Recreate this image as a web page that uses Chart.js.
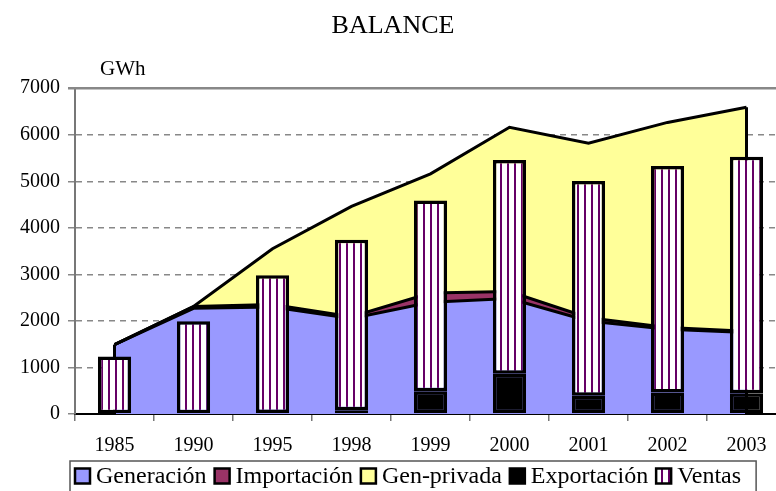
<!DOCTYPE html>
<html><head><meta charset="utf-8">
<script src="https://cdn.jsdelivr.net/npm/chart.js@4.4.0/dist/chart.umd.min.js"></script>
<style>
html,body{margin:0;padding:0;overflow:hidden;background:#fff;width:776px;height:491px}
#wrap{position:absolute;left:0;top:0;width:822px;height:500px}
</style></head><body>
<div id="wrap"><canvas id="c"></canvas></div>
<script>
const categories = ['1985','1990','1995','1998','1999','2000','2001','2002','2003'];
const generacion  = [1490, 2270, 2300, 2050, 2400, 2480, 2000, 1820, 1750];
const importacion = [0, 40, 50, 40, 200, 150, 70, 40, 30];
const genPrivada  = [0, 0, 1200, 2370, 2560, 3530, 3750, 4405, 4810];
const exportacion = [0, 0, 20, 80, 490, 865, 390, 460, 445];
const ventas      = [1235, 1995, 2960, 3665, 4095, 4590, 4615, 4870, 5080];
const yTickValues = [0, 1000, 2000, 3000, 4000, 5000, 6000, 7000];
const seriesNames = ['Generación', 'Importación', 'Gen-privada', 'Exportación', 'Ventas'];
const unitLabel = 'GWh';
const titleText = 'BALANCE';

const SERIF = "'Liberation Serif', 'Times New Roman', serif";

function stripePattern() {
  const c = document.createElement('canvas');
  c.width = 7; c.height = 8;
  const g = c.getContext('2d');
  g.fillStyle = '#ffffff'; g.fillRect(0, 0, 7, 8);
  g.fillStyle = '#660066'; g.fillRect(3, 0, 2, 8);
  return g.createPattern(c, 'repeat');
}
const ventasFill = stripePattern();

const decor = {
  id: 'decor',
  beforeDatasetsDraw(chart) {
    const {ctx, chartArea, scales: {y}} = chart;
    const top = y.getPixelForValue(yTickValues[yTickValues.length - 1]);
    ctx.save();
    ctx.strokeStyle = '#888';
    ctx.lineWidth = 2.5;
    ctx.beginPath();
    ctx.moveTo(chartArea.left - 7, top);
    ctx.lineTo(chartArea.right, top);
    ctx.stroke();
    ctx.restore();
  },
  afterDatasetDraw(chart, args) {
    if (args.index !== 0) return;
    const {ctx, scales: {y}} = chart;
    const meta = chart.getDatasetMeta(2);
    const base = y.getPixelForValue(0);
    const pts = [meta.data[0], meta.data[meta.data.length - 1]];
    ctx.save();
    ctx.strokeStyle = '#000';
    ctx.lineWidth = 3;
    pts.forEach(p => {
      ctx.beginPath();
      ctx.moveTo(p.x, p.y);
      ctx.lineTo(p.x, base);
      ctx.stroke();
    });
    ctx.restore();
  },
  afterDraw(chart) {
    const {ctx, chartArea} = chart;
    ctx.save();
    ctx.fillStyle = '#000';
    ctx.font = '21px ' + SERIF;
    ctx.textBaseline = 'middle';
    ctx.textAlign = 'left';
    ctx.fillText(unitLabel, chartArea.left + 25, chartArea.top - 19);
    ctx.font = '24px ' + SERIF;
    const box = 15, gapBT = 6, gapItem = 8;
    const items = chart.data.datasets.map(d => ({label: d.label, fill: d.backgroundColor}));
    items.forEach(it => { it.w = ctx.measureText(it.label).width; });
    const cy = 476;
    let x = 75;
    const startX = x;
    items.forEach(it => {
      ctx.fillStyle = it.fill;
      ctx.fillRect(x, cy - box / 2, box, box);
      ctx.strokeStyle = '#000';
      ctx.lineWidth = 2.5;
      ctx.strokeRect(x, cy - box / 2, box, box);
      ctx.fillStyle = '#000';
      ctx.textAlign = 'left';
      ctx.textBaseline = 'middle';
      ctx.fillText(it.label, x + box + gapBT, cy + 1);
      x += box + gapBT + it.w + gapItem;
    });
    ctx.strokeStyle = '#555';
    ctx.lineWidth = 1.5;
    ctx.strokeRect(startX - 5, 461, x - gapItem - startX + 20, 40);
    ctx.restore();
  }
};

const tickFont = {family: SERIF, size: 20};

new Chart(document.getElementById('c'), {
  type: 'bar',
  data: {
    labels: categories,
    datasets: [
      {type: 'line', label: seriesNames[0], data: generacion, stack: 'area', order: 1, fill: 'origin',
       backgroundColor: '#9999FF', borderColor: '#000', borderWidth: 3, pointRadius: 0, tension: 0},
      {type: 'line', label: seriesNames[1], data: importacion, stack: 'area', order: 1, fill: '-1',
       backgroundColor: '#993366', borderColor: '#000', borderWidth: 3, pointRadius: 0, tension: 0},
      {type: 'line', label: seriesNames[2], data: genPrivada, stack: 'area', order: 1, fill: '-1',
       backgroundColor: '#FFFF99', borderColor: '#000', borderWidth: 3, pointRadius: 0, tension: 0},
      {type: 'bar', label: seriesNames[3], data: exportacion, stack: 'bars', order: 0,
       backgroundColor: '#000', borderColor: '#000', borderWidth: 3.5, borderSkipped: false},
      {type: 'bar', label: seriesNames[4], data: ventas, stack: 'bars', order: 0,
       backgroundColor: ventasFill, borderColor: '#000', borderWidth: 3.5, borderSkipped: false}
    ]
  },
  options: {
    responsive: true,
    maintainAspectRatio: false,
    animation: false,
    events: [],
    layout: {padding: {left: 0, right: 36, top: 0, bottom: 29}},
    datasets: {bar: {categoryPercentage: 1, barPercentage: 0.42}},
    scales: {
      x: {
        stacked: true,
        offset: true,
        grid: {display: true, drawOnChartArea: false, drawTicks: true, tickLength: 7, color: '#777', lineWidth: 1.5, offset: true},
        border: {display: true, color: '#000', width: 2},
        ticks: {font: tickFont, color: '#000', padding: 13, maxRotation: 0, autoSkip: false}
      },
      y: {
        stacked: true,
        min: 0, max: 7000,
        afterBuildTicks: s => { s.ticks = yTickValues.map(v => ({value: v})); },
        afterFit: s => { s.width = 75; },
        grid: {color: '#888', lineWidth: 1.5, tickLength: 7, drawTicks: true},
        border: {display: true, color: '#777', width: 2, dash: [6, 5]},
        ticks: {font: tickFont, color: '#000', padding: 8, callback: v => String(v)}
      }
    },
    plugins: {
      title: {display: true, text: titleText, color: '#000',
              font: {family: SERIF, size: 26, weight: 'normal'}, padding: {top: 11, bottom: 46}},
      legend: {display: false},
      tooltip: {enabled: false},
      filler: {drawTime: 'beforeDatasetsDraw'}
    }
  },
  plugins: [decor]
});
</script>
</body></html>
